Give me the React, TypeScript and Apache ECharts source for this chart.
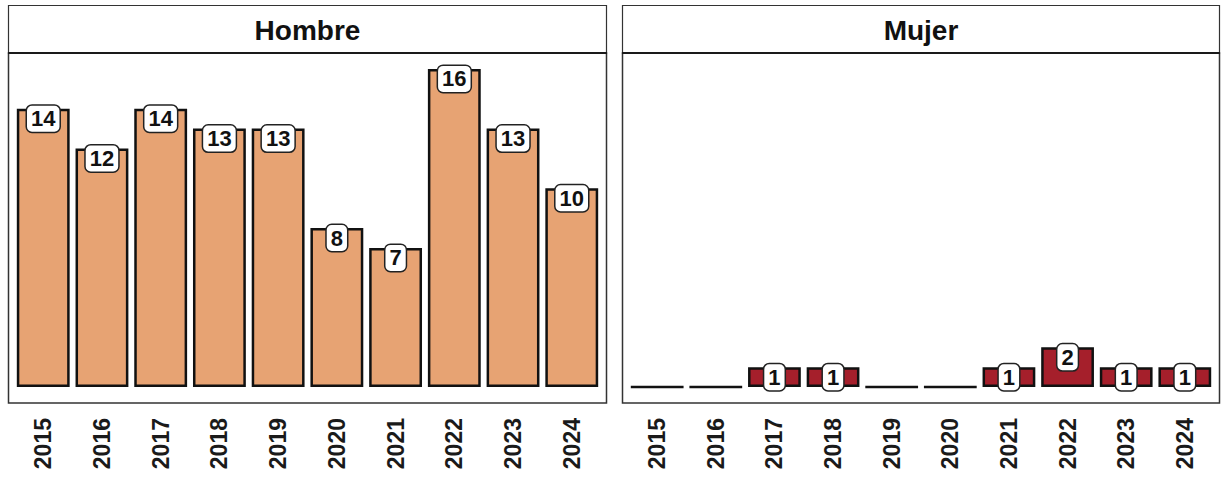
import React, { useEffect, useRef } from "react";
import * as echarts from "echarts";

const years = ["2015", "2016", "2017", "2018", "2019", "2020", "2021", "2022", "2023", "2024"];
const hombre = [14, 12, 14, 13, 13, 8, 7, 16, 13, 10];
const mujer = [0, 0, 1, 1, 0, 0, 1, 2, 1, 1];
const panelTitles = ["Hombre", "Mujer"];
const panelColors = ["#E7A373", "#A51F2B"];

const FONT = "'Liberation Sans', Arial, Helvetica, sans-serif";

export default function App() {
  const ref = useRef<HTMLDivElement>(null);
  useEffect(() => {
    document.body.style.margin = "0";
    const chart = echarts.init(ref.current!, null, { renderer: "svg" });

    const panels = [
      { x0: 8, x1: 607 },
      { x0: 622, x1: 1220 },
    ];
    const top = 53;
    const bottom = 403;
    const stripTop = 5;
    const seriesData = [hombre, mujer];

    const grids = panels.map((p) => {
      const w = p.x1 - p.x0;
      const unit = w / 10.2;
      return { left: p.x0 + 0.1 * unit, top, width: unit * 10, height: bottom - top };
    });

    const graphic: any[] = [];
    panels.forEach((p, i) => {
      const w = p.x1 - p.x0;
      graphic.push({
        type: "rect",
        z: 0,
        shape: { x: p.x0 + 0.5, y: stripTop + 0.5, width: w - 1, height: top - stripTop },
        style: { fill: "#ffffff", stroke: "#333333", lineWidth: 1.2 },
      });
      graphic.push({
        type: "rect",
        z: 0,
        shape: { x: p.x0 + 0.5, y: top, width: w - 1, height: bottom - top },
        style: { fill: "none", stroke: "#333333", lineWidth: 1.5 },
      });
      graphic.push({
        type: "line",
        z: 1,
        shape: { x1: p.x0, y1: top, x2: p.x1, y2: top },
        style: { stroke: "#1a1a1a", lineWidth: 2.2 },
      });
      graphic.push({
        type: "text",
        z: 2,
        x: (p.x0 + p.x1) / 2,
        y: (stripTop + top) / 2 + 1,
        style: {
          text: panelTitles[i],
          align: "center",
          verticalAlign: "middle",
          fontSize: 28,
          fontWeight: "bold",
          fontFamily: FONT,
          fill: "#111111",
        },
      });
    });

    chart.setOption({
      animation: false,
      grid: grids,
      graphic,
      xAxis: grids.map((_, i) => ({
        type: "category",
        gridIndex: i,
        data: years,
        axisLine: { show: false },
        axisTick: { show: false },
        axisLabel: {
          rotate: 90,
          margin: 15,
          fontSize: 23,
          fontWeight: "bold",
          fontFamily: FONT,
          color: "#1a1a1a",
        },
      })),
      yAxis: grids.map((_, i) => ({
        type: "value",
        gridIndex: i,
        min: -0.8,
        max: 16.8,
        show: false,
        splitLine: { show: false },
      })),
      series: seriesData.map((arr, i) => ({
        type: "bar",
        xAxisIndex: i,
        yAxisIndex: i,
        barWidth: "90%",
        itemStyle: { color: panelColors[i], borderColor: "#111111", borderWidth: 2.5 },
        data: arr.map((v) => ({ value: v, label: { show: v > 0 } })),
        label: {
          position: ["50%", 10],
          align: "center",
          verticalAlign: "middle",
          fontSize: 22,
          fontWeight: "bold",
          fontFamily: FONT,
          color: "#111111",
          backgroundColor: "#ffffff",
          borderColor: "#222222",
          borderWidth: 1.5,
          borderRadius: 5,
          padding: [2, 4, 2, 4],
          lineHeight: 22,
        },
      })),
    });
    return () => chart.dispose();
  }, []);
  return (
    <div
      ref={ref}
      style={{ position: "fixed", left: 0, top: 0, width: 1221, height: 478, background: "#ffffff" }}
    />
  );
}
